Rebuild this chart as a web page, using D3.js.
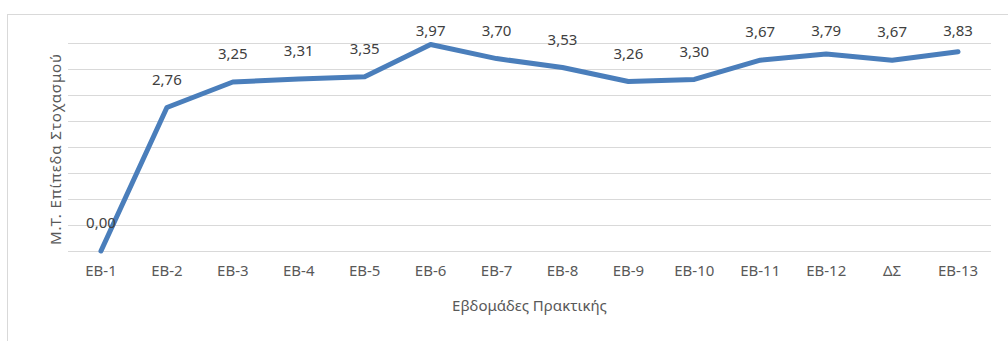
<!DOCTYPE html>
<html>
<head>
<meta charset="utf-8">
<script src="https://cdn.jsdelivr.net/npm/d3@7"></script>
<style>
  html, body { margin: 0; padding: 0; background: #ffffff; }
  svg { display: block; }
  text { font-family: "Noto Sans", "Open Sans", sans-serif; }
</style>
</head>
<body>
<svg id="chart" width="1008" height="341"></svg>
<script>
// Weekly mean target levels
const categories = ["ΕΒ-1", "ΕΒ-2", "ΕΒ-3", "ΕΒ-4", "ΕΒ-5", "ΕΒ-6", "ΕΒ-7", "ΕΒ-8", "ΕΒ-9", "ΕΒ-10", "ΕΒ-11", "ΕΒ-12", "ΔΣ", "ΕΒ-13"];
const values = [0.00, 2.76, 3.25, 3.31, 3.35, 3.97, 3.70, 3.53, 3.26, 3.30, 3.67, 3.79, 3.67, 3.83];
const yTicks = [0, 0.5, 1, 1.5, 2, 2.5, 3, 3.5, 4];
const xTitle = "Εβδομάδες Πρακτικής";
const yTitle = "Μ.Τ. Επίπεδα Στοχασμού";

const svg = d3.select("#chart");
const plot = { left: 68, right: 991, top: 43, bottom: 251 };

// Chart area frame
svg.append("rect")
  .attr("x", 7.5).attr("y", 14.5)
  .attr("width", 1010).attr("height", 340)
  .attr("fill", "#ffffff")
  .attr("stroke", "#d9d9d9").attr("stroke-width", 1);

const x = d3.scaleBand().domain(categories).range([plot.left, plot.right]);
const y = d3.scaleLinear().domain([0, 4]).range([plot.bottom, plot.top]);

// Horizontal gridlines
svg.append("g")
  .selectAll("line")
  .data(yTicks)
  .join("line")
  .attr("x1", plot.left).attr("x2", plot.right)
  .attr("y1", d => Math.round(y(d)) + 0.5).attr("y2", d => Math.round(y(d)) + 0.5)
  .attr("stroke", "#d9d9d9").attr("stroke-width", 1.2);

// Category axis labels
const xAxis = d3.axisBottom(x).tickSize(0).tickPadding(14);
const gx = svg.append("g")
  .attr("transform", `translate(0,${plot.bottom})`)
  .call(xAxis);
gx.select(".domain").remove();
gx.selectAll("text")
  .attr("fill", "#595959")
  .style("font-size", "15px")
  .style("font-family", "'Noto Sans', sans-serif");

// Line
const line = d3.line()
  .x((d, i) => x(categories[i]) + x.bandwidth() / 2)
  .y(d => y(d));

svg.append("path")
  .datum(values)
  .attr("d", line)
  .attr("fill", "none")
  .attr("stroke", "#4a7ebb")
  .attr("stroke-width", 5)
  .attr("stroke-linejoin", "round")
  .attr("stroke-linecap", "round");

// Value labels
const fmt = v => v.toFixed(2).replace(".", ",");
svg.append("g")
  .selectAll("text")
  .data(values)
  .join("text")
  .attr("x", (d, i) => x(categories[i]) + x.bandwidth() / 2)
  .attr("y", d => Math.max(31, y(d) - 28))
  .attr("dy", "0.35em")
  .attr("text-anchor", "middle")
  .attr("fill", "#404040")
  .style("font-size", "15px")
  .text(fmt);

// Axis titles
svg.append("text")
  .attr("x", (plot.left + plot.right) / 2)
  .attr("y", 306)
  .attr("dy", "0.35em")
  .attr("text-anchor", "middle")
  .attr("fill", "#595959")
  .style("font-size", "15px")
  .text(xTitle);

svg.append("text")
  .attr("transform", `translate(56,149) rotate(-90)`)
  .attr("dy", "0.35em")
  .attr("text-anchor", "middle")
  .attr("fill", "#595959")
  .style("font-size", "15px")
  .style("letter-spacing", "0.9px")
  .text(yTitle);
</script>
</body>
</html>
